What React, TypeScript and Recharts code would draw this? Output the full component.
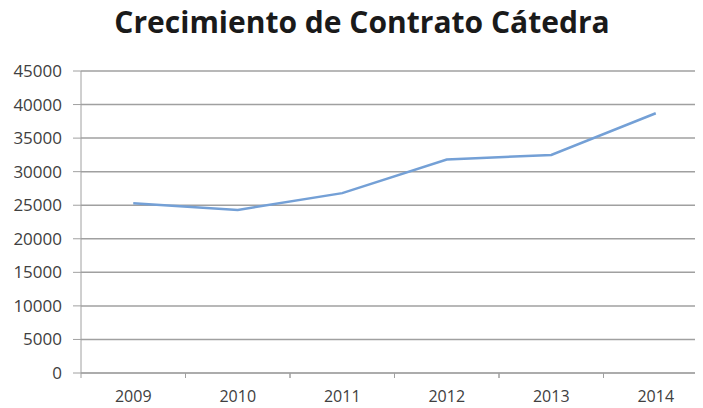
import React from "react";
import { LineChart, Line, XAxis, YAxis, CartesianGrid } from "recharts";

const years = ["2009", "2010", "2011", "2012", "2013", "2014"];
const contratos = [25300, 24300, 26800, 31800, 32500, 38700];
const yTicks = [0, 5000, 10000, 15000, 20000, 25000, 30000, 35000, 40000, 45000];

const data = years.map((y, i) => ({ year: y, value: contratos[i] }));

const AXIS = "#a0a0a0";
const TEXT = "#404040";
const FONT = "'Open Sans', sans-serif";

const XTick = (props: any) => {
  const { x, y, payload } = props;
  const off = payload && payload.offset ? payload.offset : 0;
  return (
    <g>
      <line x1={x - off} x2={x - off} y1={y - 18} y2={y - 13} stroke={AXIS} />
      <line x1={x + off} x2={x + off} y1={y - 18} y2={y - 13} stroke={AXIS} />
      <text x={x} y={y} dy="0.71em" textAnchor="middle" fill={TEXT} fontSize={16} fontFamily={FONT}>
        {payload.value}
      </text>
    </g>
  );
};

export default function App() {
  return (
    <div style={{ position: "relative", width: 703, height: 408, overflow: "hidden", marginLeft: -8, marginTop: -8, background: "#fff" }}>
      <div
        style={{
          position: "absolute",
          left: 0,
          top: 4,
          width: 724,
          textAlign: "center",
          fontFamily: FONT,
          fontWeight: 700,
          fontSize: 30,
          color: "#1a1a1a",
          lineHeight: "36px",
        }}
      >
        Crecimiento de Contrato Cátedra
      </div>
      <div style={{ position: "absolute", left: 0, top: 0 }}>
        <LineChart width={710} height={408} data={data} margin={{ top: 71, right: 2, bottom: 0, left: 0 }}>
          <CartesianGrid vertical={false} stroke={AXIS} strokeWidth={1.5} />
          <XAxis
            dataKey="year"
            scale="band"
            stroke={AXIS}
            tickLine={false}
            tickSize={5}
            tickMargin={13}
            tick={<XTick />}
            height={35}
          />
          <YAxis
            domain={[0, 45000]}
            ticks={yTicks}
            interval={0}
            width={81}
            stroke={AXIS}
            tickSize={8}
            tickMargin={11}
            tick={{ fill: TEXT, fontSize: 17, fontFamily: FONT }}
          />
          <Line
            type="linear"
            dataKey="value"
            stroke="#74a0d6"
            strokeWidth={2.5}
            dot={false}
            isAnimationActive={false}
          />
        </LineChart>
      </div>
    </div>
  );
}
